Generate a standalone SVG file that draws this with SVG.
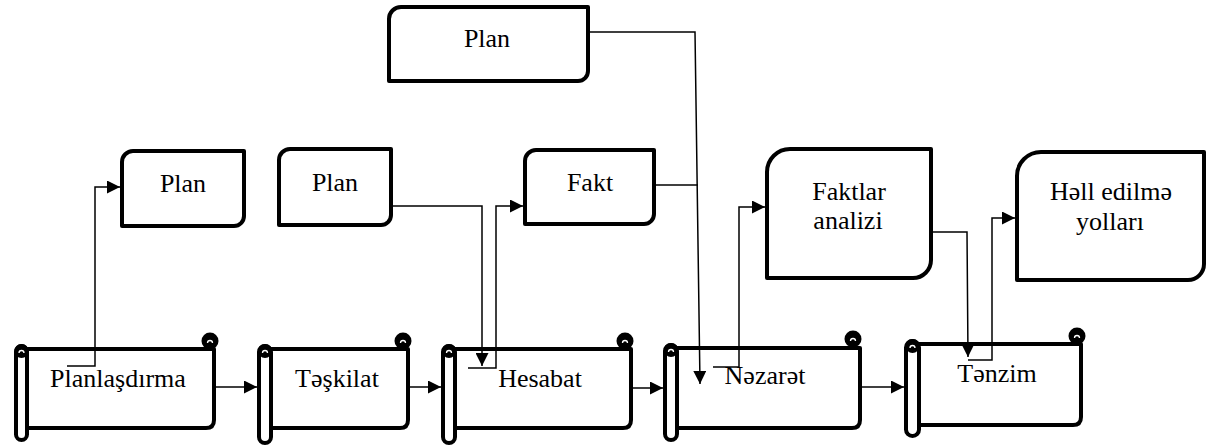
<svg xmlns="http://www.w3.org/2000/svg" width="1208" height="447" viewBox="0 0 1208 447">
<style>
.box{fill:#fff;stroke:#000;stroke-width:4;stroke-linejoin:round}
.roll{fill:#fff;stroke:#000;stroke-width:4}
.cap{fill:#000}
.nick{fill:none;stroke:#fff;stroke-width:1.3}
.t{font-family:"Liberation Serif","Times New Roman",serif;font-size:26px;fill:#000;text-anchor:middle}
.c{fill:none;stroke:#000;stroke-width:1.5}
</style>
<defs>
<marker id="ah" viewBox="0 0 13 13" refX="13" refY="6.5" markerWidth="13" markerHeight="13" markerUnits="userSpaceOnUse" orient="auto">
<path d="M0,0 L13,6.5 L0,13 z" fill="#000"/>
</marker>
</defs>
<rect width="1208" height="447" fill="#fff"/>

<g id="scroll-planlasdirma">
<path class="box" d="M22 349 H214 V420 Q214 428 206 428 H22"/>
<circle class="cap" cx="210" cy="341" r="8.5"/>
<path class="nick" d="M207.5 343 A2.5 2.5 0 0 1 212.5 343"/>
<rect class="roll" x="16" y="346" width="11" height="94" rx="5.5"/>
<circle class="cap" cx="21.5" cy="351" r="7"/>
<path class="nick" d="M19 353 A2.5 2.5 0 0 1 24 353"/>
<text class="t" x="118" y="387">Planlaşdırma</text>
</g>

<g id="scroll-teskilat">
<path class="box" d="M265 349 H408 V420 Q408 428 400 428 H265"/>
<circle class="cap" cx="403" cy="341" r="8.5"/>
<path class="nick" d="M400.5 343 A2.5 2.5 0 0 1 405.5 343"/>
<rect class="roll" x="259" y="346" width="12" height="97" rx="6"/>
<circle class="cap" cx="265" cy="351" r="7"/>
<path class="nick" d="M262.5 353 A2.5 2.5 0 0 1 267.5 353"/>
<text class="t" x="337" y="387">Təşkilat</text>
</g>

<g id="scroll-hesabat">
<path class="box" d="M449 349 H631 V420 Q631 428 623 428 H449"/>
<circle class="cap" cx="625" cy="341" r="8.5"/>
<path class="nick" d="M622.5 343 A2.5 2.5 0 0 1 627.5 343"/>
<rect class="roll" x="443" y="346" width="12" height="97" rx="6"/>
<circle class="cap" cx="449" cy="351" r="7"/>
<path class="nick" d="M446.5 353 A2.5 2.5 0 0 1 451.5 353"/>
<text class="t" x="540" y="387">Hesabat</text>
</g>

<g id="scroll-nezaret">
<path class="box" d="M671 348 H860 V420 Q860 428 852 428 H671"/>
<circle class="cap" cx="853" cy="339" r="8.5"/>
<path class="nick" d="M850.5 341 A2.5 2.5 0 0 1 855.5 341"/>
<rect class="roll" x="665" y="345" width="12" height="95" rx="6"/>
<circle class="cap" cx="671" cy="350" r="7"/>
<path class="nick" d="M668.5 352 A2.5 2.5 0 0 1 673.5 352"/>
<text class="t" x="765" y="384">Nəzarət</text>
</g>

<g id="scroll-tenzim">
<path class="box" d="M912 344 H1081 V417 Q1081 425 1073 425 H912"/>
<circle class="cap" cx="1077" cy="336" r="8.5"/>
<path class="nick" d="M1074.5 338 A2.5 2.5 0 0 1 1079.5 338"/>
<rect class="roll" x="906" y="341" width="13" height="95" rx="6.5"/>
<circle class="cap" cx="912.5" cy="346" r="7"/>
<path class="nick" d="M910 348 A2.5 2.5 0 0 1 915 348"/>
<text class="t" x="997" y="382">Tənzim</text>
</g>

<g id="box-plan-top">
<path class="box" d="M389 19 A12 12 0 0 1 401 7 H588 V71 A10 10 0 0 1 578 81 H389 Z"/>
<text class="t" x="487" y="47">Plan</text>
</g>

<g id="box-plan-1">
<path class="box" d="M122 162 A11 11 0 0 1 133 151 H244 V216 A10 10 0 0 1 234 226 H122 Z"/>
<text class="t" x="183" y="192">Plan</text>
</g>

<g id="box-plan-2">
<path class="box" d="M279 160 A11 11 0 0 1 290 149 H391 V215 A10 10 0 0 1 381 225 H279 Z"/>
<text class="t" x="335" y="191">Plan</text>
</g>

<g id="box-fakt">
<path class="box" d="M525 161 A11 11 0 0 1 536 150 H654 V214 A10 10 0 0 1 644 224 H525 Z"/>
<text class="t" x="590" y="191">Fakt</text>
</g>

<g id="box-faktlar">
<path class="box" d="M767 172 A23 23 0 0 1 790 149 H931 V260 A18 18 0 0 1 913 278 H767 Z"/>
<text class="t" x="849" y="200">Faktlar</text>
<text class="t" x="848" y="229">analizi</text>
</g>

<g id="box-hell">
<path class="box" d="M1017 176 A24 24 0 0 1 1041 152 H1204 V264 A16 16 0 0 1 1188 280 H1017 Z"/>
<text class="t" x="1111" y="200">Həll edilmə</text>
<text class="t" x="1110" y="230">yolları</text>
</g>

<g id="connectors">
<polyline class="c" points="67,366 95,366 95,187 120,187" marker-end="url(#ah)"/>
<polyline class="c" points="393,206 482,206 482,366" marker-end="url(#ah)"/>
<polyline class="c" points="468,368 496,368 496,206 523,206" marker-end="url(#ah)"/>
<polyline class="c" points="590,32 695,32 700,384" marker-end="url(#ah)"/>
<polyline class="c" points="656,185 698,185"/>
<polyline class="c" points="713,367 739,367 739,207 765,207" marker-end="url(#ah)"/>
<polyline class="c" points="933,232 967,232 968,357" marker-end="url(#ah)"/>
<polyline class="c" points="968,360 992,360 992,218 1015,218" marker-end="url(#ah)"/>
<line class="c" x1="216" y1="387" x2="257" y2="387" marker-end="url(#ah)"/>
<line class="c" x1="410" y1="387" x2="441" y2="387" marker-end="url(#ah)"/>
<line class="c" x1="633" y1="388" x2="663" y2="388" marker-end="url(#ah)"/>
<line class="c" x1="862" y1="387" x2="904" y2="387" marker-end="url(#ah)"/>
</g>
</svg>
